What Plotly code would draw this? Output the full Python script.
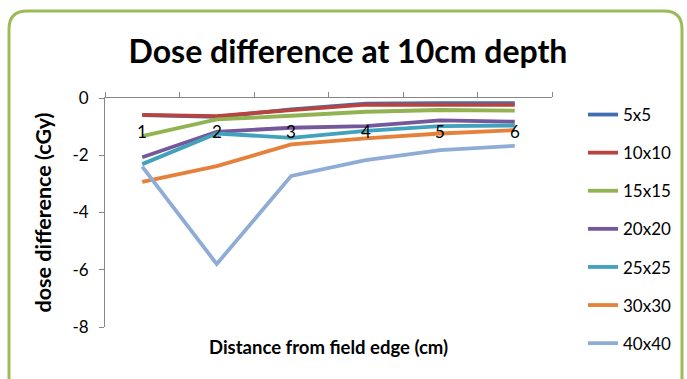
import plotly.graph_objects as go

distance = [1, 2, 3, 4, 5, 6]
tick_labels = ["1", "2", "3", "4", "5", "6"]
series_names = ["5x5", "10x10", "15x15", "20x20", "25x25", "30x30", "40x40"]
s5x5 = [-0.60, -0.66, -0.40, -0.20, -0.18, -0.18]
s10x10 = [-0.59, -0.63, -0.42, -0.23, -0.24, -0.24]
s15x15 = [-1.33, -0.75, -0.62, -0.48, -0.42, -0.44]
s20x20 = [-2.07, -1.18, -1.04, -0.98, -0.78, -0.83]
s25x25 = [-2.31, -1.24, -1.39, -1.15, -0.98, -0.96]
s30x30 = [-2.93, -2.38, -1.62, -1.41, -1.24, -1.12]
s40x40 = [-2.40, -5.80, -2.72, -2.17, -1.82, -1.67]
y_ticks = [0, -2, -4, -6, -8]
y_tick_text = ["0", "-2", "-4", "-6", "-8"]

all_series = [s5x5, s10x10, s15x15, s20x20, s25x25, s30x30, s40x40]
colors = ["#416EB0", "#B8443F", "#92B352", "#75589C", "#42A1BC", "#E5813A", "#8FACD6"]

FONT = "Lato"
W, H = 687, 379
L, R, T, B = 105, 135, 98, 52
pw, ph = W - L - R, H - T - B

fig = go.Figure()
for i, (name, vals) in enumerate(zip(series_names, all_series)):
    fig.add_trace(go.Scatter(
        x=distance, y=vals, name=name, mode="lines",
        line=dict(color=colors[i], width=3.8),
        legendgroup=name,
    ))

# category labels under the top axis line
for xv, lab in zip(distance, tick_labels):
    fig.add_annotation(x=xv, y=0, xref="x", yref="y", text=lab, showarrow=False,
                       yshift=-33, font=dict(family=FONT, size=17, color="#000000"))

def px(xp):
    return (xp - L) / pw

def py(yp):
    return (H - B - yp) / ph

# rounded green border
x0, y0, x1, y1, r = 9, 11, 682, 400, 18
path = (f"M {px(x0)},{py(y0 + r)} Q {px(x0)},{py(y0)} {px(x0 + r)},{py(y0)} "
        f"L {px(x1 - r)},{py(y0)} Q {px(x1)},{py(y0)} {px(x1)},{py(y0 + r)} "
        f"L {px(x1)},{py(y1)} L {px(x0)},{py(y1)} Z")
fig.add_shape(type="path", path=path, xref="paper", yref="paper",
              line=dict(color="#9BBB59", width=3), fillcolor="rgba(0,0,0,0)", layer="below")

fig.add_annotation(x=px(328), y=py(347), xref="paper", yref="paper",
                   xanchor="center", yanchor="middle",
                   text="<b>Distance from field edge (cm)</b>", showarrow=False,
                   font=dict(family=FONT, size=18.5, color="#000000"))

fig.update_layout(
    width=W, height=H,
    margin=dict(l=L, r=R, t=T, b=B, autoexpand=False),
    paper_bgcolor="white", plot_bgcolor="white",
    title=dict(text="<b>Dose difference at 10cm depth</b>", x=348 / W, xref="container",
               y=1 - 52 / H, yref="container", xanchor="center", yanchor="middle",
               font=dict(family=FONT, size=32, color="#000000")),
    font=dict(family=FONT, size=17, color="#000000"),
    legend=dict(x=px(583), y=py(97), xanchor="left", yanchor="top",
                font=dict(family=FONT, size=17), tracegroupgap=13,
                bgcolor="rgba(0,0,0,0)", maxheight=400),
    showlegend=True,
)
fig.update_xaxes(range=[0.5, 6.5], side="top", tickvals=[0.5, 1.5, 2.5, 3.5, 4.5, 5.5, 6.5],
                 showticklabels=False, ticks="outside", ticklen=5, tickcolor="#868686",
                 showline=True, linecolor="#868686", linewidth=1, showgrid=False, zeroline=False)
fig.update_yaxes(range=[-8, 0], tickvals=y_ticks, ticktext=y_tick_text,
                 ticks="outside", ticklen=5, tickcolor="#868686", ticklabelstandoff=7,
                 showline=True, linecolor="#868686", linewidth=1, showgrid=False, zeroline=False,
                 tickfont=dict(family=FONT, size=17),
                 title=dict(text="<b>dose difference (cGy)</b>", standoff=14,
                            font=dict(family=FONT, size=21.5)))

fig.write_html("out.html", post_script="document.body.style.margin='0';",
               config={"displayModeBar": False})
